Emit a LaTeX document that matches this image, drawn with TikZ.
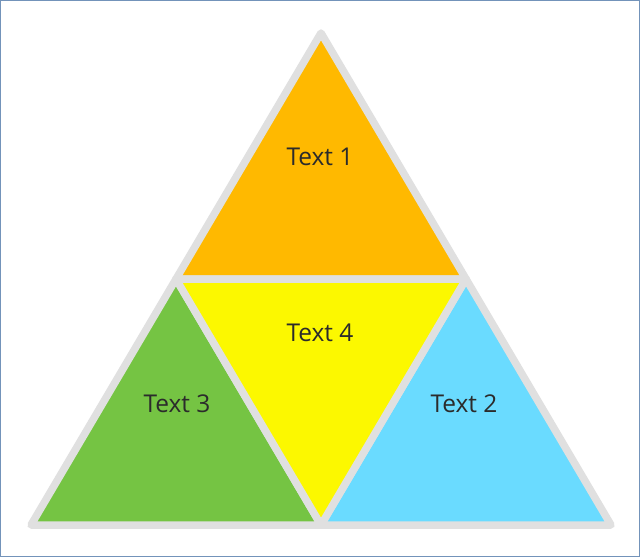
\documentclass[tikz,border=0pt]{standalone}
\usepackage{fontspec}
\setmainfont{Open Sans}
\definecolor{cOrange}{HTML}{FFB900}
\definecolor{cYellow}{HTML}{FCF800}
\definecolor{cGreen}{HTML}{75C443}
\definecolor{cBlue}{HTML}{6ADBFF}
\definecolor{cGrey}{HTML}{E0E0E0}
\definecolor{cFrame}{HTML}{7393BA}
\definecolor{cText}{HTML}{2B2B2B}
\begin{document}
\begin{tikzpicture}[x=1pt,y=-1pt,
  tri/.style={draw=cGrey,line width=7.5pt,line join=round},
  lbl/.style={text=cText,font=\fontsize{24.5}{29}\selectfont,inner sep=0pt}]
\useasboundingbox (0,0) rectangle (640,557);
\fill[white] (0,0) rectangle (640,557);
\draw[cFrame,line width=1pt] (0.5,0.5) rectangle (639.5,556.5);
\coordinate (A) at (321,33);
\coordinate (B) at (31,525);
\coordinate (C) at (611,525);
\coordinate (AB) at (176,279);
\coordinate (AC) at (466,279);
\coordinate (BC) at (321,525);
\filldraw[tri,fill=cOrange] (A) -- (AB) -- (AC) -- cycle;
\filldraw[tri,fill=cGreen] (AB) -- (B) -- (BC) -- cycle;
\filldraw[tri,fill=cBlue] (AC) -- (BC) -- (C) -- cycle;
\filldraw[tri,fill=cYellow] (AB) -- (AC) -- (BC) -- cycle;
\node[lbl] (t1) at (320,157) {Text 1};
\node[lbl] (t4) at (320,333) {Text 4};
\node[lbl] (t3) at (177,404) {Text 3};
\node[lbl] (t2) at (464,404) {Text 2};
\end{tikzpicture}
\end{document}
